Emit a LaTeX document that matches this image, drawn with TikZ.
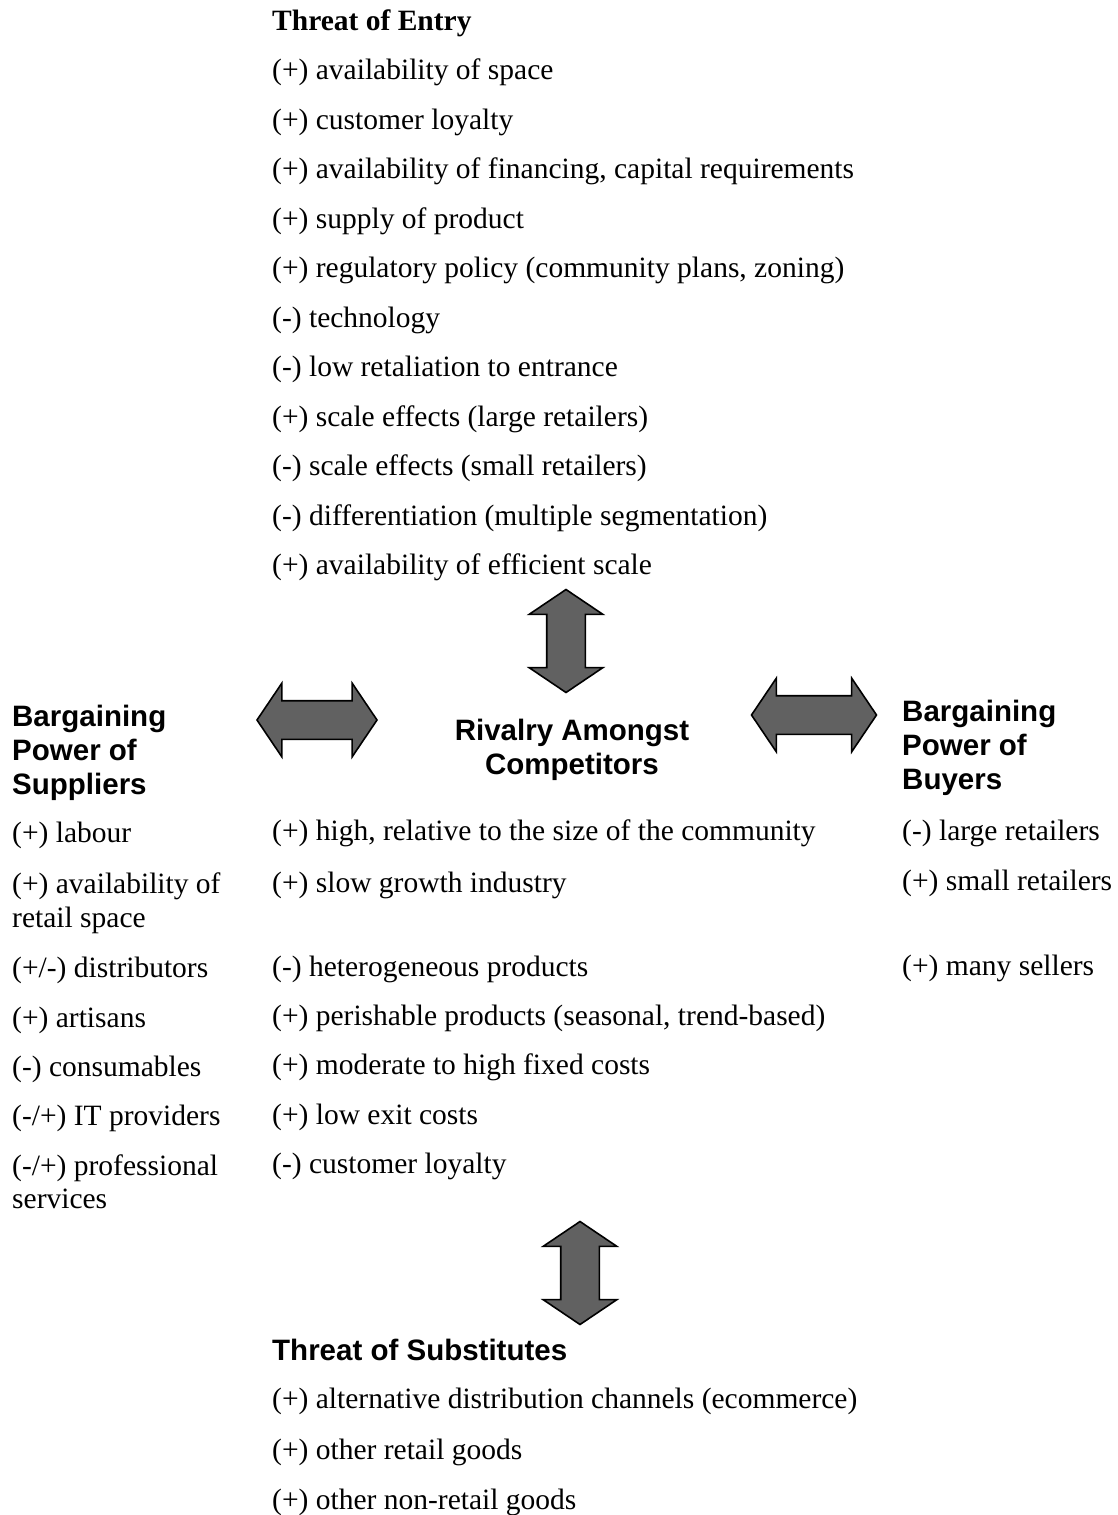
\documentclass[tikz,border=0pt]{standalone}
\usepackage{fontspec}
\setmainfont{Liberation Serif}
\setsansfont{Liberation Sans}
\usetikzlibrary{shapes.arrows}
\tikzset{
  item/.style={anchor=base west, inner sep=0pt, font=\fontsize{29.5}{34}\selectfont},
  force/.style={anchor=base west, inner sep=0pt, align=left, font=\fontsize{29.5}{34}\selectfont\sffamily\bfseries},
  bigarrow/.style={double arrow, draw=black, line width=1.6pt, fill=black!62,
    inner sep=18.5pt, double arrow head extend=17.5pt, minimum width=73pt,
    double arrow tip angle=112}
}

\begin{document}
\begin{tikzpicture}[x=1pt, y=-1pt]
  \useasboundingbox (0,0) rectangle (1117,1515);

  % threat of entry
  \node[item, font=\fontsize{29.5}{34}\selectfont\bfseries] (entry) at (272,30) {Threat of Entry};
  \foreach \txt [count=\i] in {{(+) availability of space}, {(+) customer loyalty},
      {(+) availability of financing, capital requirements}, {(+) supply of product},
      {(+) regulatory policy (community plans, zoning)}, {(-) technology},
      {(-) low retaliation to entrance}, {(+) scale effects (large retailers)},
      {(-) scale effects (small retailers)}, {(-) differentiation (multiple segmentation)},
      {(+) availability of efficient scale}}
    \node[item] (e\i) at (272,30+49.5*\i) {\txt};

  % the three forces in the middle row (base = last line)
  \node[force] (suppliers) at (12,794) {Bargaining\\Power of\\Suppliers};
  \node[force, anchor=base, align=center] (rivalry) at (572,774) {Rivalry Amongst\\Competitors};
  \node[force] (buyers) at (902,789) {Bargaining\\Power of\\Buyers};

  \foreach \y/\txt [count=\i] in {842/{(+) labour}, 893/{(+) availability of},
      927/{retail space}, 977/{(+/-) distributors}, 1027/{(+) artisans},
      1076/{(-) consumables}, 1125/{(-/+) IT providers},
      1175/{(-/+) professional}, 1208/{services}}
    \node[item] (s\i) at (12,\y) {\txt};

  \foreach \y/\txt [count=\i] in {840/{(+) high, relative to the size of the community},
      892/{(+) slow growth industry}, 976/{(-) heterogeneous products},
      1025/{(+) perishable products (seasonal, trend-based)},
      1074/{(+) moderate to high fixed costs}, 1124/{(+) low exit costs},
      1173/{(-) customer loyalty}}
    \node[item] (r\i) at (272,\y) {\txt};

  \foreach \y/\txt [count=\i] in {840/{(-) large retailers}, 890/{(+) small retailers},
      975/{(+) many sellers}}
    \node[item] (b\i) at (902,\y) {\txt};

  % threat of substitutes
  \node[force] (subst) at (272,1360) {Threat of Substitutes};
  \foreach \txt [count=\i] in {{(+) alternative distribution channels (ecommerce)},
      {(+) other retail goods}, {(+) other non-retail goods}}
    \node[item] (t\i) at (272,1358+50.5*\i) {\txt};

  % arrows
  \node[bigarrow, minimum height=103pt, rotate=90] (aentry) at (566,641) {};
  \node[bigarrow, minimum height=120pt] (asupp) at (317,720) {};
  \node[bigarrow, minimum height=125pt] (abuy) at (814,715) {};
  \node[bigarrow, minimum height=103pt, rotate=90] (asubst) at (580,1273) {};
\end{tikzpicture}
\end{document}
